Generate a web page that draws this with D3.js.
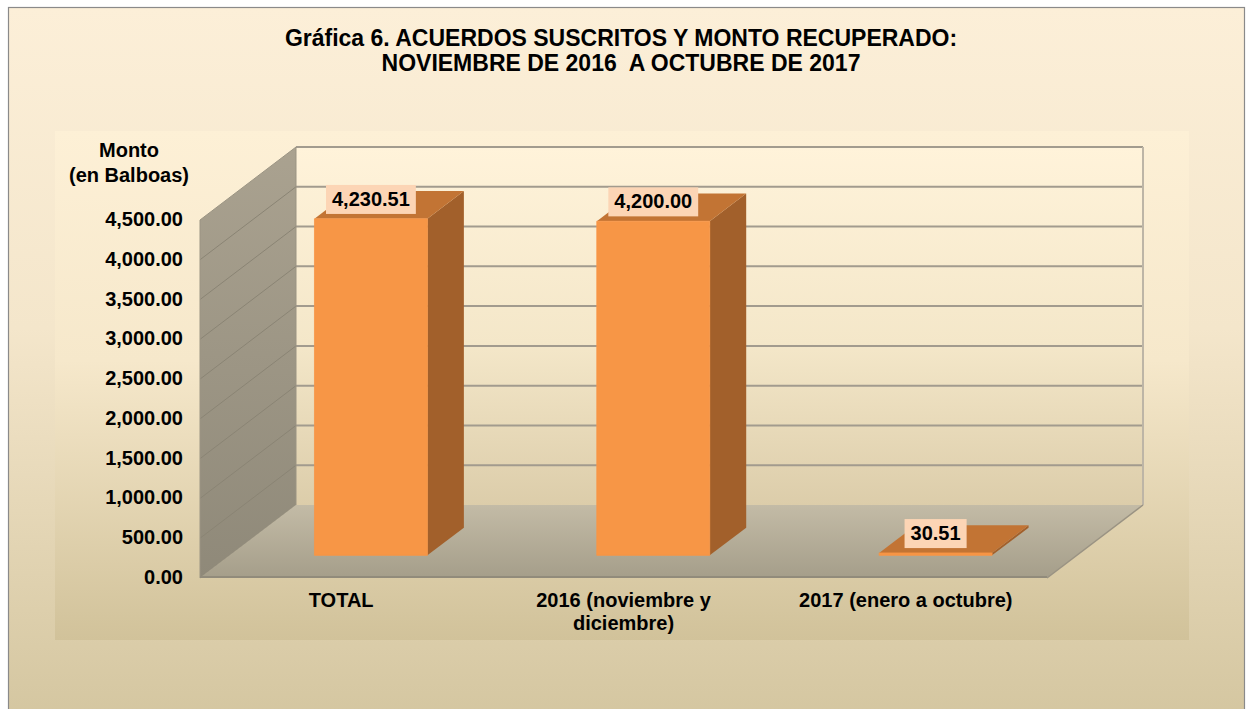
<!DOCTYPE html>
<html>
<head>
<meta charset="utf-8">
<script src="https://cdn.jsdelivr.net/npm/d3@7"></script>
<style>
  html, body { margin: 0; padding: 0; background: #fff; }
  svg { display: block; font-family: "Liberation Sans", Arial, sans-serif; }
  text { font-weight: bold; fill: #000; }
</style>
</head>
<body>
<svg></svg>
<script>
const [WIDTH, HEIGHT] = [1247, 709]

// data
const categories = ["TOTAL", "2016 (noviembre y diciembre)", "2017 (enero a octubre)"]
const categoryLines = [["TOTAL"], ["2016 (noviembre y", "diciembre)"], ["2017 (enero a octubre)"]]
const values = [4230.51, 4200.00, 30.51]
const yTicks = [0, 500, 1000, 1500, 2000, 2500, 3000, 3500, 4000, 4500]
const titleLines = ["Gráfica 6. ACUERDOS SUSCRITOS Y MONTO RECUPERADO:", "NOVIEMBRE DE 2016  A OCTUBRE DE 2017"]
const yTitle = ["Monto", "(en Balboas)"]

const state = {}

function setupSvg() {
    state['svg'] = d3.select("svg")
        .attr("viewBox", "0 0 " + WIDTH + " " + HEIGHT)
        .attr('width', WIDTH)
        .attr('height', HEIGHT)

    const defs = state['svg'].append('defs')
    const grad = (id, stops, x2 = 0, y2 = 1) => {
        const g = defs.append('linearGradient').attr('id', id)
            .attr('x1', 0).attr('y1', 0).attr('x2', x2).attr('y2', y2)
        stops.forEach(([o, c]) => g.append('stop').attr('offset', o).attr('stop-color', c))
    }
    grad('bgOuter', [[0, '#fcefd8'], [0.45, '#f4e6cb'], [1, '#d4c6a0']])
    grad('bgInner', [[0, '#fdf0d6'], [0.45, '#f6e8cb'], [1, '#d1c29a']])
    grad('backWall', [[0, '#fff3da'], [0.55, '#f4e7c9'], [1, '#dccdaa']])
    grad('sideWall', [[0, '#aaa290'], [1, '#8f8979']])
    grad('floor', [[0, '#c3bba6'], [1, '#a59e8a']])
}

// pseudo 3d projection: front plane + depth offset
const FRONT = { left: 200, right: 1047, y0: 578 }
const DEPTH = { dx: 96, dy: -73 }
const Z0 = 0.31, Z1 = 0.69

function main() {
    setupSvg()
    const svg = state['svg']

    svg.append('rect').attr('x', 8.5).attr('y', 7.5).attr('width', 1236).attr('height', 712)
        .attr('fill', 'url(#bgOuter)').attr('stroke', '#8a8a8a').attr('stroke-width', 1.2)
    svg.append('rect').attr('x', 55).attr('y', 131).attr('width', 1134).attr('height', 509)
        .attr('fill', 'url(#bgInner)')

    const x = d3.scaleBand().domain(categories).range([FRONT.left, FRONT.right])
        .paddingInner(0.6).paddingOuter(0.3)
    const y = d3.scaleLinear().domain([0, 4500]).range([FRONT.y0, FRONT.y0 - 358])

    const P = (px, v, z) => [px + z * DEPTH.dx, y(v) + z * DEPTH.dy]
    const poly = pts => 'M' + pts.map(p => p.join(',')).join('L') + 'Z'

    const xl = FRONT.left, xr = FRONT.right, top = 4500

    // back wall
    svg.append('path').attr('d', poly([P(xl, 0, 1), P(xl, top, 1), P(xr, top, 1), P(xr, 0, 1)]))
        .attr('fill', 'url(#backWall)')
    svg.append('g').selectAll('line').data(yTicks.slice(1)).join('line')
        .attr('x1', P(xl, 0, 1)[0]).attr('x2', P(xr, 0, 1)[0])
        .attr('y1', d => P(xl, d, 1)[1]).attr('y2', d => P(xl, d, 1)[1])
        .attr('stroke', '#a29b8e').attr('stroke-width', 2)
    svg.append('line').attr('x1', P(xr, 0, 1)[0]).attr('x2', P(xr, top, 1)[0])
        .attr('y1', P(xr, 0, 1)[1]).attr('y2', P(xr, top, 1)[1])
        .attr('stroke', '#bdb5a6').attr('stroke-width', 2)

    // left side wall
    svg.append('path').attr('d', poly([P(xl, 0, 0), P(xl, top, 0), P(xl, top, 1), P(xl, 0, 1)]))
        .attr('fill', 'url(#sideWall)')
    svg.append('g').selectAll('line').data(yTicks.slice(1, -1)).join('line')
        .attr('x1', d => P(xl, d, 0)[0]).attr('y1', d => P(xl, d, 0)[1])
        .attr('x2', d => P(xl, d, 1)[0]).attr('y2', d => P(xl, d, 1)[1])
        .attr('stroke', '#8a8474').attr('stroke-width', 1)
    svg.append('path').attr('d', poly([P(xl, 0, 0), P(xl, top, 0), P(xl, top, 1), P(xl, 0, 1)]))
        .attr('fill', 'none').attr('stroke', '#9b9483').attr('stroke-width', 1)

    // floor
    svg.append('path').attr('d', poly([P(xl, 0, 0), P(xl, 0, 1), P(xr, 0, 1), P(xr, 0, 0)]))
        .attr('fill', 'url(#floor)')
    svg.append('line').attr('x1', P(xl, 0, 0)[0]).attr('x2', P(xr, 0, 0)[0])
        .attr('y1', y(0) - 1).attr('y2', y(0) - 1)
        .attr('stroke', '#918b7b').attr('stroke-width', 2)
    svg.append('line').attr('x1', P(xr, 0, 0)[0]).attr('y1', P(xr, 0, 0)[1])
        .attr('x2', P(xr, 0, 1)[0]).attr('y2', P(xr, 0, 1)[1])
        .attr('stroke', '#9a9383').attr('stroke-width', 1.5)

    // bars
    const bars = svg.append('g').selectAll('g').data(categories).join('g')
    bars.each(function (c, i) {
        const g = d3.select(this)
        const v = values[i]
        const x0 = x(c), x1 = x(c) + x.bandwidth()
        g.append('path').attr('d', poly([P(x1, 0, Z0), P(x1, v, Z0), P(x1, v, Z1), P(x1, 0, Z1)]))
            .attr('fill', '#a2602b')
        g.append('path').attr('d', poly([P(x0, v, Z0), P(x0, v, Z1), P(x1, v, Z1), P(x1, v, Z0)]))
            .attr('fill', '#c27434')
        g.append('path').attr('d', poly([P(x0, 0, Z0), P(x0, v, Z0), P(x1, v, Z0), P(x1, 0, Z0)]))
            .attr('fill', '#f79646').attr('stroke', '#f79646').attr('stroke-width', 0.8)
    })

    // value labels
    const fmt = d3.format(',.2f')
    bars.each(function (c, i) {
        const g = d3.select(this)
        const v = values[i]
        const cx = x(c) + x.bandwidth() / 2 + Z0 * DEPTH.dx
        const cy = (P(0, v, Z0)[1] + P(0, v, Z1)[1]) / 2 - 6
        const t = g.append('text').attr('x', cx).attr('y', cy + 7)
            .attr('text-anchor', 'middle').style('font-size', '20px').text(fmt(v))
        const w = t.node().getComputedTextLength()
        g.insert('rect', 'text').attr('x', cx - w / 2 - 6).attr('y', cy - 14)
            .attr('width', w + 12).attr('height', 29).attr('fill', '#fcd5b5')
    })

    // y tick labels
    svg.append('g').selectAll('text').data(yTicks).join('text')
        .attr('x', 183).attr('y', d => y(d) + 6)
        .attr('text-anchor', 'end').style('font-size', '20px')
        .text(d => fmt(d))

    // y title
    svg.append('g').selectAll('text').data(yTitle).join('text')
        .attr('x', 129).attr('y', (d, i) => 157 + i * 25)
        .attr('text-anchor', 'middle').style('font-size', '20px').text(d => d)

    // category labels
    categories.forEach((c, i) => {
        svg.append('text').attr('text-anchor', 'middle').style('font-size', '20px')
            .selectAll('tspan').data(categoryLines[i]).join('tspan')
            .attr('x', x(c) + x.bandwidth() / 2).attr('y', (d, j) => 607 + j * 23)
            .text(d => d)
    })

    // title
    svg.append('g').selectAll('text').data(titleLines).join('text')
        .attr('x', 621).attr('y', (d, i) => 46 + i * 25)
        .attr('text-anchor', 'middle').style('font-size', '23px').style('white-space', 'pre')
        .text(d => d)
}

main()
</script>
</body>
</html>
